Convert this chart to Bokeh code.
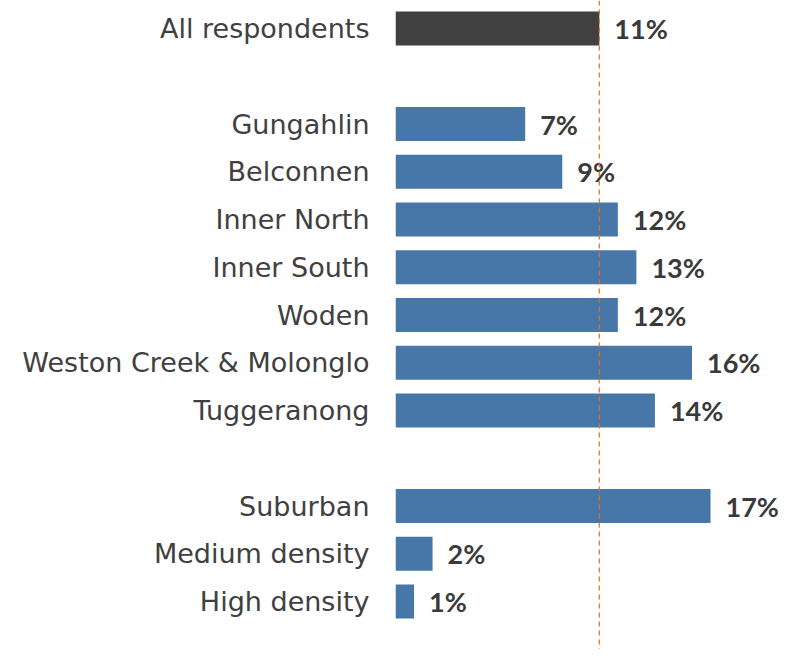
from bokeh.plotting import figure
from bokeh.models import Range1d, FixedTicker, ColumnDataSource, Span
from bokeh.core.properties import value
from bokeh.embed import file_html
from bokeh.resources import INLINE

categories = ["All respondents", "Gungahlin", "Belconnen", "Inner North", "Inner South",
              "Woden", "Weston Creek & Molonglo", "Tuggeranong",
              "Suburban", "Medium density", "High density"]
values = [11, 7, 9, 12, 13, 12, 16, 14, 17, 2, 1]
slots = [0, 2, 3, 4, 5, 6, 7, 8, 10, 11, 12]
colors = ["#404040"] + ["#4677A8"] * 10
reference_value = 11

labels = [f"{v}%" for v in values]

W, H = 778, 649
left = 395
p = figure(width=W, height=H, output_backend="svg", toolbar_location=None,
           x_range=Range1d(0, (W - left) / 18.53),
           y_range=Range1d(12 + (H - 601) / 47.75, -28 / 47.75),
           min_border_left=left, min_border_right=0, min_border_top=0, min_border_bottom=0,
           outline_line_color=None)
p.xaxis.visible = False
p.xgrid.visible = False
p.ygrid.visible = False

src = ColumnDataSource(dict(y=slots, v=values, c=colors, lab=labels))
p.hbar(y="y", left=0, right="v", height=0.71, fill_color="c", line_color=None, source=src)

p.add_layout(Span(location=reference_value, dimension="height", line_color="#F26B21",
                  line_width=1.2, line_dash="5 4"))

p.text(x="v", y="y", text="lab", x_offset=15, text_baseline="middle", text_align="left",
       text_font=value("Lato"), text_font_style="bold", text_font_size="27px",
       text_color="#3a3a3a", source=src)

ax = p.yaxis[0]
ax.ticker = FixedTicker(ticks=slots)
ax.major_label_overrides = {s: c for s, c in zip(slots, categories)}
ax.axis_line_color = None
ax.major_tick_line_color = None
ax.minor_tick_line_color = None
ax.major_tick_out = 0
ax.major_label_standoff = 26
ax.major_label_text_font = "DejaVu Sans"
ax.major_label_text_font_size = "27px"
ax.major_label_text_color = "#404040"

open("out.html", "w").write(file_html(p, INLINE))
